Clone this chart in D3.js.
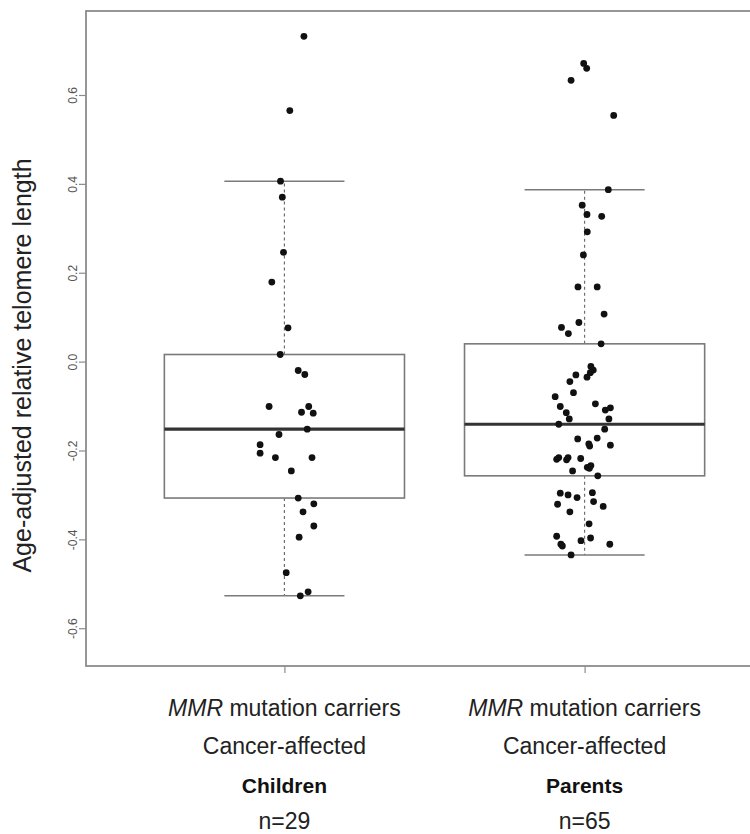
<!DOCTYPE html>
<html>
<head>
<meta charset="utf-8">
<script src="https://cdn.jsdelivr.net/npm/d3@7"></script>
<style>
  html, body { margin: 0; padding: 0; background: #fff; }
  svg { display: block; font-family: "Liberation Sans", Arial, Helvetica, sans-serif; }
</style>
</head>
<body>
<svg id="chart" width="750" height="834"></svg>
<script>
// Age-adjusted relative telomere length, per group
const categories = ["Children", "Parents"];
const carrierLabel = ["MMR", " mutation carriers"];
const statusLabel = "Cancer-affected";
const yTicks = [-0.6, -0.4, -0.2, 0.0, 0.2, 0.4, 0.6];
const yTitle = "Age-adjusted relative telomere length";

const childrenValues = [
  0.732, 0.565, 0.406, 0.370, 0.246, 0.179, 0.076, 0.016, -0.020, -0.029,
  -0.101, -0.101, -0.114, -0.116, -0.152, -0.164, -0.187, -0.206, -0.216, -0.216,
  -0.246, -0.307, -0.320, -0.338, -0.370, -0.395, -0.475, -0.518, -0.527
];
// horizontal jitter of each point (category units)
const childrenJitter = [
  0.065, 0.018, -0.013, -0.007, -0.003, -0.042, 0.012, -0.014, 0.046, 0.068,
  -0.051, 0.081, 0.057, 0.096, 0.076, -0.018, -0.081, -0.081, -0.030, 0.092,
  0.023, 0.046, 0.098, 0.062, 0.098, 0.049, 0.006, 0.079, 0.053
];

const parentsValues = [
  0.671, 0.660, 0.633, 0.554, 0.387, 0.352, 0.331, 0.327, 0.292, 0.240,
  0.168, 0.168, 0.107, 0.088, 0.077, 0.063, 0.040, -0.011, -0.019, -0.025,
  -0.035, -0.030, -0.045, -0.070, -0.079, -0.095, -0.101, -0.109, -0.104, -0.115,
  -0.129, -0.129, -0.141, -0.152, -0.174, -0.172, -0.185, -0.190, -0.188, -0.220,
  -0.216, -0.221, -0.216, -0.218, -0.246, -0.238, -0.234, -0.240, -0.257, -0.296,
  -0.300, -0.306, -0.295, -0.315, -0.321, -0.326, -0.338, -0.365, -0.393, -0.397,
  -0.411, -0.403, -0.411, -0.415, -0.435
];
const parentsJitter = [
  -0.003, 0.007, -0.045, 0.097, 0.079, -0.008, 0.008, 0.057, 0.009, -0.004,
  -0.022, 0.042, 0.065, -0.019, -0.077, -0.054, 0.055, 0.021, 0.029, 0.019,
  0.008, -0.029, -0.049, -0.037, -0.098, 0.036, -0.081, 0.069, 0.086, -0.061,
  -0.051, 0.081, -0.086, 0.067, -0.023, 0.042, 0.014, 0.017, 0.086, -0.093,
  -0.086, -0.060, -0.055, -0.013, -0.040, 0.009, 0.021, 0.016, 0.044, -0.081,
  -0.055, -0.025, 0.026, 0.030, -0.090, 0.062, -0.049, 0.015, -0.093, 0.020,
  -0.079, -0.012, 0.084, -0.074, -0.045
];

const groups = [
  { name: categories[0], pos: 1, values: childrenValues, jitter: childrenJitter },
  { name: categories[1], pos: 2, values: parentsValues, jitter: parentsJitter }
];

// Tukey five-number summary (same rule as R's fivenum)
function fivenum(arr) {
  const x = arr.slice().sort(d3.ascending);
  const n = x.length;
  const n4 = Math.floor((n + 3) / 2) / 2;
  const d = [1, n4, (n + 1) / 2, n + 1 - n4, n];
  return d.map(k => 0.5 * (x[Math.floor(k) - 1] + x[Math.ceil(k) - 1]));
}
function boxStats(values) {
  const [, q1, med, q3] = fivenum(values);
  const iqr = q3 - q1;
  const lo = q1 - 1.5 * iqr, hi = q3 + 1.5 * iqr;
  const inside = values.filter(v => v >= lo && v <= hi);
  return { q1, med, q3, wLo: d3.min(inside), wHi: d3.max(inside) };
}

const svg = d3.select("#chart");
const plot = { left: 86, top: 11, right: 783, bottom: 666 };

const x = d3.scaleLinear().domain([0.339, 2.661]).range([plot.left, plot.right]);
const y = d3.scaleLinear().domain([-0.685, 0.789]).range([plot.bottom, plot.top]);

const boxHalf = 0.4;   // category units
const capHalf = 0.2;

const frameColor = "#8c8c8c";
const boxColor = "#7a7a7a";

// boxes, whiskers, caps
groups.forEach(g => {
  const s = boxStats(g.values);
  const gg = svg.append("g");
  // whiskers (dashed)
  gg.append("line")
    .attr("x1", x(g.pos)).attr("x2", x(g.pos))
    .attr("y1", y(s.q3)).attr("y2", y(s.wHi))
    .attr("stroke", "#6e6e6e").attr("stroke-width", 1.2).attr("stroke-dasharray", "3,3");
  gg.append("line")
    .attr("x1", x(g.pos)).attr("x2", x(g.pos))
    .attr("y1", y(s.q1)).attr("y2", y(s.wLo))
    .attr("stroke", "#6e6e6e").attr("stroke-width", 1.2).attr("stroke-dasharray", "3,3");
  // caps
  [s.wHi, s.wLo].forEach(v => {
    gg.append("line")
      .attr("x1", x(g.pos - capHalf)).attr("x2", x(g.pos + capHalf))
      .attr("y1", y(v)).attr("y2", y(v))
      .attr("stroke", boxColor).attr("stroke-width", 1.5);
  });
  // box
  gg.append("rect")
    .attr("x", x(g.pos - boxHalf)).attr("y", y(s.q3))
    .attr("width", x(g.pos + boxHalf) - x(g.pos - boxHalf))
    .attr("height", y(s.q1) - y(s.q3))
    .attr("fill", "none").attr("stroke", boxColor).attr("stroke-width", 1.6);
  // median
  gg.append("line")
    .attr("x1", x(g.pos - boxHalf)).attr("x2", x(g.pos + boxHalf))
    .attr("y1", y(s.med)).attr("y2", y(s.med))
    .attr("stroke", "#333").attr("stroke-width", 3.2);
});

// jittered points
groups.forEach(g => {
  svg.append("g").selectAll("circle")
    .data(g.values.map((v, i) => ({ v, j: g.jitter[i] })))
    .join("circle")
    .attr("cx", d => x(g.pos + d.j))
    .attr("cy", d => y(d.v))
    .attr("r", 3.4)
    .attr("fill", "#111");
});

// plot frame
svg.append("rect")
  .attr("x", plot.left).attr("y", plot.top)
  .attr("width", plot.right - plot.left).attr("height", plot.bottom - plot.top)
  .attr("fill", "none").attr("stroke", frameColor).attr("stroke-width", 1.8);

// y axis
const yAxis = svg.append("g")
  .attr("transform", `translate(${plot.left},0)`)
  .call(d3.axisLeft(y).tickValues(yTicks).tickSize(7).tickFormat(v => v.toFixed(1)));
yAxis.select(".domain").remove();
yAxis.selectAll(".tick line").attr("stroke", frameColor).attr("stroke-width", 1.2);
yAxis.selectAll(".tick text")
  .attr("x", 0).attr("dy", 0)
  .attr("transform", "translate(-9,0) rotate(-90)")
  .attr("text-anchor", "middle")
  .attr("fill", "#555")
  .style("font-size", "12px")
  .style("font-family", "'Liberation Sans', Arial, sans-serif");

// x axis ticks
const xAxis = svg.append("g")
  .attr("transform", `translate(0,${plot.bottom})`)
  .call(d3.axisBottom(x).tickValues(groups.map(g => g.pos)).tickSize(7).tickFormat(""));
xAxis.select(".domain").remove();
xAxis.selectAll(".tick line").attr("stroke", frameColor).attr("stroke-width", 1.2);

// y title
svg.append("text")
  .attr("transform", `translate(31,${(plot.top + plot.bottom) / 2 + 27}) rotate(-90)`)
  .attr("text-anchor", "middle")
  .attr("fill", "#222")
  .style("font-size", "25px")
  .text(yTitle);

// category labels, four lines each
groups.forEach(g => {
  const cx = x(g.pos);
  const t1 = svg.append("text").attr("x", cx).attr("y", 716)
    .attr("text-anchor", "middle").attr("fill", "#222").style("font-size", "23px");
  t1.append("tspan").style("font-style", "italic").text(carrierLabel[0]);
  t1.append("tspan").text(carrierLabel[1]);
  svg.append("text").attr("x", cx).attr("y", 754)
    .attr("text-anchor", "middle").attr("fill", "#222").style("font-size", "23px")
    .text(statusLabel);
  svg.append("text").attr("x", cx).attr("y", 793)
    .attr("text-anchor", "middle").attr("fill", "#111").style("font-size", "21px")
    .style("font-weight", "bold").text(g.name);
  svg.append("text").attr("x", cx).attr("y", 829)
    .attr("text-anchor", "middle").attr("fill", "#222").style("font-size", "23px")
    .text("n=" + g.values.length);
});
</script>
</body>
</html>
